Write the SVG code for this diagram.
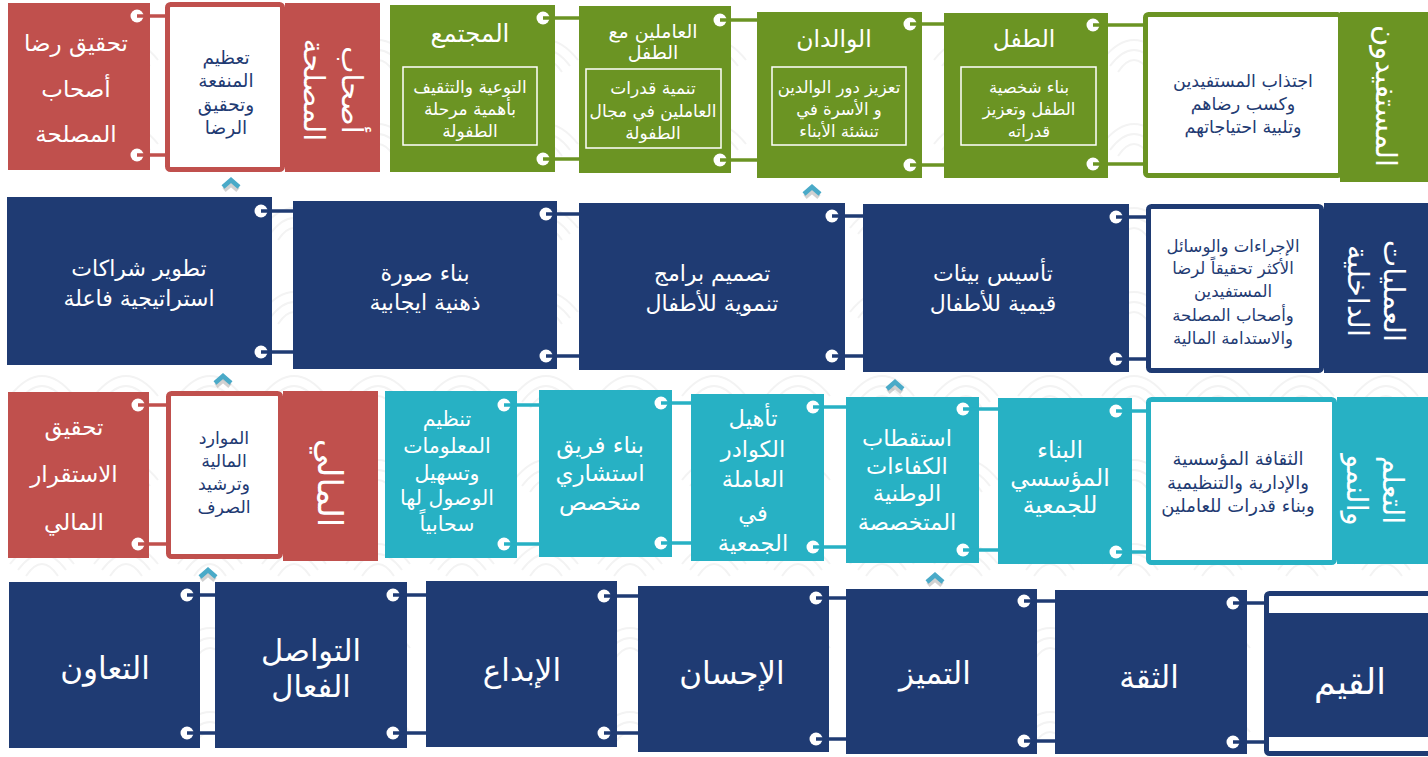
<svg xmlns="http://www.w3.org/2000/svg" width="1428" height="757" viewBox="0 0 1428 757">
<style>
.t{font-family:"DejaVu Sans",sans-serif;text-anchor:middle;dominant-baseline:central}
.w{fill:#fff}
.n{fill:#1f3b73}
.red{fill:#c0504d}
.grn{fill:#6b9423}
.nav{fill:#1f3b73}
.tea{fill:#27b1c4}
.ib{fill:none;stroke:#fff;stroke-width:1.5}
.wb{fill:#fff;stroke-width:5}
.dot{fill:#fff}
.c line{stroke-width:3.5}
.chev{fill:none;stroke:#4aaac8;stroke-width:4.5;stroke-linejoin:miter}
.chs{fill:none;stroke:#000;stroke-opacity:0.18;stroke-width:5}
</style>
<defs>
<pattern id="bg" width="84" height="84" patternUnits="userSpaceOnUse">
<path d="M10,60 Q42,20 74,60 M18,66 Q42,34 66,66 M26,72 Q42,48 58,72" fill="none" stroke="#f3f3f3" stroke-width="2"/>
</pattern>
</defs>
<rect width="1428" height="757" fill="#fff"/>
<rect width="1428" height="757" fill="url(#bg)"/>

<!-- Row 1 -->
<g id="r1-stake-goal">
<rect class="red" x="8" y="3" width="142" height="167"/>
<text class="t w" font-size="23" x="76" y="43">تحقيق رضا</text>
<text class="t w" font-size="23" x="76" y="89">أصحاب</text>
<text class="t w" font-size="23" x="76" y="134">المصلحة</text>
<circle class="dot" cx="137" cy="16" r="6.5"/><circle class="dot" cx="137" cy="155" r="6.5"/>
</g>
<g id="r1-stake-white">
<rect class="wb" stroke="#c0504d" x="167.5" y="4.5" width="115" height="165" rx="3"/>
<text class="t n" font-size="18.5" x="226" y="57">تعظيم</text>
<text class="t n" font-size="18.5" x="226" y="80">المنفعة</text>
<text class="t n" font-size="18.5" x="226" y="104">وتحقيق</text>
<text class="t n" font-size="18.5" x="226" y="127">الرضا</text>
</g>
<g id="r1-stake-title">
<rect class="red" x="285" y="3" width="95" height="169"/>
<text class="t w" font-size="29" transform="translate(352,90) rotate(90)">أصحاب</text>
<text class="t w" font-size="29" transform="translate(314,90) rotate(90)">المصلحة</text>
</g>
<g id="r1-community">
<rect class="grn" x="390" y="5" width="165" height="167"/>
<text class="t w" font-size="24.5" x="470" y="33">المجتمع</text>
<rect class="ib" x="403" y="67" width="134" height="78"/>
<text class="t w" font-size="17" x="470" y="87">التوعية والتثقيف</text>
<text class="t w" font-size="17" x="470" y="109">بأهمية مرحلة</text>
<text class="t w" font-size="17" x="470" y="131">الطفولة</text>
<circle class="dot" cx="543" cy="18" r="6.5"/><circle class="dot" cx="543" cy="159" r="6.5"/>
</g>
<g id="r1-workers">
<rect class="grn" x="579" y="6" width="152" height="167"/>
<text class="t w" font-size="19" x="653" y="31">العاملين مع</text>
<text class="t w" font-size="19" x="653" y="52">الطفل</text>
<rect class="ib" x="586" y="69" width="135" height="79"/>
<text class="t w" font-size="17" x="653" y="88">تنمية قدرات</text>
<text class="t w" font-size="17" x="653" y="111">العاملين في مجال</text>
<text class="t w" font-size="17" x="653" y="133">الطفولة</text>
<circle class="dot" cx="720" cy="20" r="6.5"/><circle class="dot" cx="720" cy="160" r="6.5"/>
</g>
<g id="r1-parents">
<rect class="grn" x="757" y="12" width="165" height="166"/>
<text class="t w" font-size="23.5" x="834" y="39">الوالدان</text>
<rect class="ib" x="772" y="67" width="134" height="78"/>
<text class="t w" font-size="16.5" x="839" y="87">تعزيز دور الوالدين</text>
<text class="t w" font-size="16.5" x="839" y="109">و الأسرة في</text>
<text class="t w" font-size="16.5" x="839" y="131">تنشئة الأبناء</text>
<circle class="dot" cx="910" cy="24" r="6.5"/><circle class="dot" cx="910" cy="165" r="6.5"/>
</g>
<g id="r1-child">
<rect class="grn" x="944" y="13" width="164" height="165"/>
<text class="t w" font-size="23.5" x="1024" y="39">الطفل</text>
<rect class="ib" x="961" y="67" width="135" height="78"/>
<text class="t w" font-size="16.5" x="1029" y="87">بناء شخصية</text>
<text class="t w" font-size="16.5" x="1029" y="109">الطفل وتعزيز</text>
<text class="t w" font-size="16.5" x="1029" y="131">قدراته</text>
<circle class="dot" cx="1093" cy="25" r="6.5"/><circle class="dot" cx="1093" cy="164" r="6.5"/>
</g>
<g id="r1-benef-white">
<rect class="wb" stroke="#6b9423" x="1145.5" y="14.5" width="195" height="161" rx="3"/>
<text class="t n" font-size="17.5" x="1243" y="81">اجتذاب المستفيدين</text>
<text class="t n" font-size="17.5" x="1243" y="104">وكسب رضاهم</text>
<text class="t n" font-size="17.5" x="1243" y="127">وتلبية احتياجاتهم</text>
</g>
<g id="r1-benef-title">
<rect class="grn" x="1340" y="12" width="88" height="170"/>
<text class="t w" font-size="29" transform="translate(1386,96) rotate(90)">المستفيدون</text>
</g>

<!-- Row 2 -->
<g id="r2-partner">
<rect class="nav" x="7" y="197" width="265" height="168"/>
<text class="t w" font-size="22" x="139" y="268">تطوير شراكات</text>
<text class="t w" font-size="22" x="139" y="298">استراتيجية فاعلة</text>
<circle class="dot" cx="261" cy="211" r="6.5"/><circle class="dot" cx="261" cy="352" r="6.5"/>
</g>
<g id="r2-image">
<rect class="nav" x="293" y="201" width="264" height="168"/>
<text class="t w" font-size="22" x="425" y="273">بناء صورة</text>
<text class="t w" font-size="22" x="425" y="302">ذهنية ايجابية</text>
<circle class="dot" cx="546" cy="214" r="6.5"/><circle class="dot" cx="546" cy="356" r="6.5"/>
</g>
<g id="r2-programs">
<rect class="nav" x="579" y="203" width="266" height="167"/>
<text class="t w" font-size="22" x="712" y="273">تصميم برامج</text>
<text class="t w" font-size="22" x="712" y="303">تنموية للأطفال</text>
<circle class="dot" cx="832" cy="216" r="6.5"/><circle class="dot" cx="832" cy="356" r="6.5"/>
</g>
<g id="r2-env">
<rect class="nav" x="863" y="204" width="266" height="168"/>
<text class="t w" font-size="22" x="993" y="273">تأسيس بيئات</text>
<text class="t w" font-size="22" x="993" y="303">قيمية للأطفال</text>
<circle class="dot" cx="1116" cy="217" r="6.5"/><circle class="dot" cx="1116" cy="359" r="6.5"/>
</g>
<g id="r2-proc-white">
<rect class="wb" stroke="#1f3b73" x="1148.5" y="206.5" width="173" height="164" rx="3"/>
<text class="t n" font-size="16.5" x="1233" y="246">الإجراءات والوسائل</text>
<text class="t n" font-size="16.5" x="1233" y="268">الأكثر تحقيقاً لرضا</text>
<text class="t n" font-size="16.5" x="1233" y="291">المستفيدين</text>
<text class="t n" font-size="16.5" x="1233" y="315">وأصحاب المصلحة</text>
<text class="t n" font-size="16.5" x="1233" y="338">والاستدامة المالية</text>
</g>
<g id="r2-proc-title">
<rect class="nav" x="1324" y="203" width="104" height="170"/>
<text class="t w" font-size="29" transform="translate(1394,291) rotate(90)">العمليات</text>
<text class="t w" font-size="29" transform="translate(1358,291) rotate(90)">الداخلية</text>
</g>

<!-- Row 3 -->
<g id="r3-fin-goal">
<rect class="red" x="8" y="392" width="141" height="166"/>
<text class="t w" font-size="23" x="74" y="427">تحقيق</text>
<text class="t w" font-size="23" x="74" y="474">الاستقرار</text>
<text class="t w" font-size="23" x="74" y="522">المالي</text>
<circle class="dot" cx="138" cy="405" r="6.5"/><circle class="dot" cx="138" cy="544" r="6.5"/>
</g>
<g id="r3-fin-white">
<rect class="wb" stroke="#c0504d" x="168.5" y="393.5" width="112" height="163" rx="3"/>
<text class="t n" font-size="17.5" x="224" y="438">الموارد</text>
<text class="t n" font-size="17.5" x="224" y="461">المالية</text>
<text class="t n" font-size="17.5" x="224" y="484">وترشيد</text>
<text class="t n" font-size="17.5" x="224" y="507">الصرف</text>
</g>
<g id="r3-fin-title">
<rect class="red" x="283" y="391" width="95" height="170"/>
<text class="t w" font-size="34" transform="translate(330,483) rotate(90)">المالي</text>
</g>
<g id="r3-info">
<rect class="tea" x="385" y="391" width="132" height="167"/>
<text class="t w" font-size="20.5" x="447" y="419">تنظيم</text>
<text class="t w" font-size="20.5" x="447" y="446">المعلومات</text>
<text class="t w" font-size="20.5" x="447" y="473">وتسهيل</text>
<text class="t w" font-size="20.5" x="447" y="498">الوصول لها</text>
<text class="t w" font-size="20.5" x="447" y="524">سحابياً</text>
<circle class="dot" cx="504" cy="405" r="6.5"/><circle class="dot" cx="504" cy="544" r="6.5"/>
</g>
<g id="r3-team">
<rect class="tea" x="539" y="390" width="133" height="167"/>
<text class="t w" font-size="23" x="600" y="445">بناء فريق</text>
<text class="t w" font-size="23" x="600" y="473">استشاري</text>
<text class="t w" font-size="23" x="600" y="502">متخصص</text>
<circle class="dot" cx="661" cy="403" r="6.5"/><circle class="dot" cx="661" cy="543" r="6.5"/>
</g>
<g id="r3-qualify">
<rect class="tea" x="691" y="394" width="133" height="167"/>
<text class="t w" font-size="22.5" x="753" y="418">تأهيل</text>
<text class="t w" font-size="22.5" x="753" y="449">الكوادر</text>
<text class="t w" font-size="22.5" x="753" y="479">العاملة</text>
<text class="t w" font-size="22.5" x="753" y="513">في</text>
<text class="t w" font-size="22.5" x="753" y="543">الجمعية</text>
<circle class="dot" cx="813" cy="407" r="6.5"/><circle class="dot" cx="813" cy="547" r="6.5"/>
</g>
<g id="r3-recruit">
<rect class="tea" x="846" y="397" width="133" height="166"/>
<text class="t w" font-size="22.5" x="907" y="438">استقطاب</text>
<text class="t w" font-size="22.5" x="907" y="466">الكفاءات</text>
<text class="t w" font-size="22.5" x="907" y="493">الوطنية</text>
<text class="t w" font-size="22.5" x="907" y="522">المتخصصة</text>
<circle class="dot" cx="963" cy="409" r="6.5"/><circle class="dot" cx="963" cy="550" r="6.5"/>
</g>
<g id="r3-build">
<rect class="tea" x="998" y="398" width="134" height="166"/>
<text class="t w" font-size="23.5" x="1060" y="450">البناء</text>
<text class="t w" font-size="23.5" x="1060" y="478">المؤسسي</text>
<text class="t w" font-size="23.5" x="1060" y="505">للجمعية</text>
<circle class="dot" cx="1116" cy="411" r="6.5"/><circle class="dot" cx="1116" cy="552" r="6.5"/>
</g>
<g id="r3-learn-white">
<rect class="wb" stroke="#27b1c4" x="1148.5" y="399.5" width="186" height="163" rx="3"/>
<text class="t n" font-size="18" x="1238" y="458">الثقافة المؤسسية</text>
<text class="t n" font-size="18" x="1238" y="482">والإدارية والتنظيمية</text>
<text class="t n" font-size="18" x="1238" y="505">وبناء قدرات للعاملين</text>
</g>
<g id="r3-learn-title">
<rect class="tea" x="1337" y="397" width="91" height="167"/>
<text class="t w" font-size="29" transform="translate(1393,490) rotate(90)">التعلم</text>
<text class="t w" font-size="29" transform="translate(1357,490) rotate(90)">والنمو</text>
</g>

<!-- Row 4 -->
<g id="r4-coop">
<rect class="nav" x="9" y="582" width="191" height="166"/>
<text class="t w" font-size="31" x="105" y="668">التعاون</text>
<circle class="dot" cx="187" cy="595" r="6.5"/><circle class="dot" cx="187" cy="733" r="6.5"/>
</g>
<g id="r4-comm">
<rect class="nav" x="215" y="582" width="192" height="166"/>
<text class="t w" font-size="30.5" x="311" y="650">التواصل</text>
<text class="t w" font-size="30.5" x="311" y="686">الفعال</text>
<circle class="dot" cx="393" cy="595" r="6.5"/><circle class="dot" cx="393" cy="733" r="6.5"/>
</g>
<g id="r4-creat">
<rect class="nav" x="426" y="581" width="191" height="166"/>
<text class="t w" font-size="31" x="522" y="670">الإبداع</text>
<circle class="dot" cx="604" cy="596" r="6.5"/><circle class="dot" cx="604" cy="733" r="6.5"/>
</g>
<g id="r4-ihsan">
<rect class="nav" x="638" y="586" width="191" height="166"/>
<text class="t w" font-size="31" x="732" y="673">الإحسان</text>
<circle class="dot" cx="816" cy="598" r="6.5"/><circle class="dot" cx="816" cy="739" r="6.5"/>
</g>
<g id="r4-excel">
<rect class="nav" x="846" y="589" width="191" height="165"/>
<text class="t w" font-size="31" x="935" y="673">التميز</text>
<circle class="dot" cx="1024" cy="601" r="6.5"/><circle class="dot" cx="1024" cy="741" r="6.5"/>
</g>
<g id="r4-trust">
<rect class="nav" x="1055" y="590" width="192" height="164"/>
<text class="t w" font-size="31" x="1149" y="677">الثقة</text>
<circle class="dot" cx="1233" cy="603" r="6.5"/><circle class="dot" cx="1233" cy="742" r="6.5"/>
</g>
<g id="r4-values">
<rect class="wb" stroke="#1f3b73" x="1266.5" y="593.5" width="170" height="160" rx="3"/>
<rect class="nav" x="1264" y="613" width="164" height="124"/>
<text class="t w" font-size="35" x="1350" y="682">القيم</text>
</g>

<!-- Connectors -->
<g id="connectors" class="c">
<g stroke="#c0504d">
<line x1="137" y1="16" x2="168" y2="16"/><line x1="137" y1="155" x2="168" y2="155"/>
<line x1="138" y1="405" x2="169" y2="405"/><line x1="138" y1="544" x2="169" y2="544"/>
</g>
<g stroke="#6b9423">
<line x1="543" y1="18" x2="579" y2="18"/><line x1="543" y1="159" x2="579" y2="159"/>
<line x1="720" y1="20" x2="757" y2="20"/><line x1="720" y1="160" x2="757" y2="160"/>
<line x1="910" y1="24" x2="944" y2="24"/><line x1="910" y1="165" x2="944" y2="165"/>
<line x1="1093" y1="25" x2="1146" y2="25"/><line x1="1093" y1="164" x2="1146" y2="164"/>
</g>
<g stroke="#1f3b73">
<line x1="261" y1="211" x2="293" y2="211"/><line x1="261" y1="352" x2="293" y2="352"/>
<line x1="546" y1="214" x2="579" y2="214"/><line x1="546" y1="356" x2="579" y2="356"/>
<line x1="832" y1="216" x2="863" y2="216"/><line x1="832" y1="356" x2="863" y2="356"/>
<line x1="1116" y1="217" x2="1149" y2="217"/><line x1="1116" y1="359" x2="1149" y2="359"/>
<line x1="187" y1="595" x2="215" y2="595"/><line x1="187" y1="733" x2="215" y2="733"/>
<line x1="393" y1="595" x2="426" y2="595"/><line x1="393" y1="733" x2="426" y2="733"/>
<line x1="604" y1="596" x2="638" y2="596"/><line x1="604" y1="733" x2="638" y2="733"/>
<line x1="816" y1="598" x2="846" y2="598"/><line x1="816" y1="739" x2="846" y2="739"/>
<line x1="1024" y1="601" x2="1055" y2="601"/><line x1="1024" y1="741" x2="1055" y2="741"/>
<line x1="1233" y1="603" x2="1267" y2="603"/><line x1="1233" y1="742" x2="1267" y2="742"/>
</g>
<g stroke="#27b1c4">
<line x1="504" y1="405" x2="539" y2="405"/><line x1="504" y1="544" x2="539" y2="544"/>
<line x1="661" y1="403" x2="691" y2="403"/><line x1="661" y1="543" x2="691" y2="543"/>
<line x1="813" y1="407" x2="846" y2="407"/><line x1="813" y1="547" x2="846" y2="547"/>
<line x1="963" y1="409" x2="998" y2="409"/><line x1="963" y1="550" x2="998" y2="550"/>
<line x1="1116" y1="411" x2="1149" y2="411"/><line x1="1116" y1="552" x2="1149" y2="552"/>
</g>
</g>

<!-- Chevrons -->
<g id="chevrons">
<path class="chs" d="M224,190 L231,184 L238,190"/><path class="chev" d="M223,187 L231,180 L239,187"/>
<path class="chs" d="M805,197 L812,191 L819,197"/><path class="chev" d="M804,194 L812,187 L820,194"/>
<path class="chs" d="M216,386 L223,380 L230,386"/><path class="chev" d="M215,383 L223,376 L231,383"/>
<path class="chs" d="M888,392 L895,386 L902,392"/><path class="chev" d="M887,389 L895,382 L903,389"/>
<path class="chs" d="M201,580 L208,574 L215,580"/><path class="chev" d="M200,577 L208,570 L216,577"/>
<path class="chs" d="M928,585 L935,579 L942,585"/><path class="chev" d="M927,582 L935,575 L943,582"/>
</g>
</svg>
